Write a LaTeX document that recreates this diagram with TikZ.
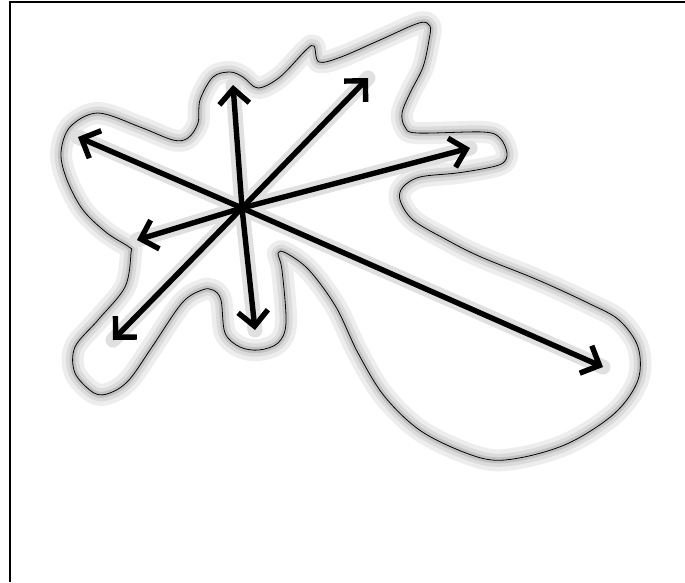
\documentclass[tikz,border=0pt]{standalone}
\usetikzlibrary{arrows.meta}
\begin{document}
\begin{tikzpicture}[x=1pt,y=-1pt,
  halowide/.style={draw=black!7,line width=22pt,line join=round},
  halomid/.style={draw=black!14,line width=13pt,line join=round},
  halonarrow/.style={draw=black!24,line width=6pt,line join=round},
  outline/.style={draw=black,line width=0.8pt,line join=round},
  arrhalo/.style={draw=black!12,line width=15pt,line cap=round},
  arr/.style={draw=black,line width=5.4pt,-{Straight Barb[length=15pt,width=30pt,line width=5.4pt]}}]
\useasboundingbox (0,0) rectangle (685,582);
\fill[white] (0,0) rectangle (685,582);
\foreach \s in {halowide,halomid,halonarrow,outline}{
\path[\s] plot[smooth cycle, tension=0.55] coordinates {
(61,153) (70,127) (98,113) (140,127) (173,140) (188,138) (198,123) (200,100)
(213,77) (230,72) (243,77) (258,88) (280,77) (306,50) (314,46) (319,62)
(341,57) (380,40) (419,23) (430,26) (429,40) (423,67) (410,93) (402,113)
(405,127) (417,133) (483,132) (500,138) (507,153) (503,163) (487,168)
(457,173) (420,177) (403,187) (400,200) (413,220) (447,240) (481,257)
(538,280) (588,303) (619,320) (638,347) (638,380) (615,413) (569,443)
(519,458) (481,458) (424,433) (385,397) (358,353) (336,307) (309,270)
(286,253) (278,253) (282,270) (286,323) (278,343) (259,350) (240,347)
(225,333) (221,300) (213,290) (202,290) (182,303) (152,347) (129,380)
(110,393) (94,393) (75,373) (75,347) (98,320) (125,287) (131,253)
(129,247) (107,233) (83,210) (67,180)};
}
\coordinate (c) at (242,208);
\coordinate (u) at (233,85);
\coordinate (ur) at (368,78);
\coordinate (r) at (470,148);
\coordinate (ul) at (78,137);
\coordinate (l) at (137,240);
\coordinate (dl) at (113,340);
\coordinate (d) at (255,330);
\coordinate (dr) at (603,367);
\foreach \t in {u,ur,r,ul,l,dl,d,dr}{\draw[arrhalo] (c) -- (\t);}
\foreach \t in {u,ur,r,ul,l,dl,d,dr}{\draw[arr] (c) -- (\t);}
\draw[line width=2pt] (10,582) -- (10,2) -- (685,2);
\end{tikzpicture}
\end{document}
